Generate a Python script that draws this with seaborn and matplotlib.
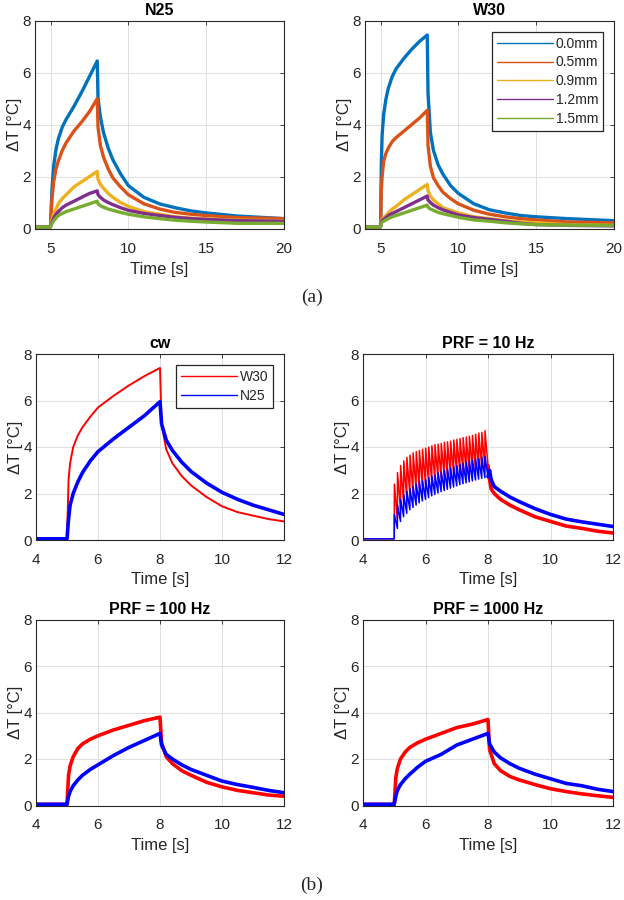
import numpy as np
import pandas as pd
import matplotlib
matplotlib.use("Agg")
import matplotlib.pyplot as plt
import seaborn as sns

# ---- (a) depth series ----
t_a = [4.0, 4.95, 5.0, 5.05, 5.1, 5.2, 5.35, 5.5, 5.75, 6.0, 6.5, 7.0, 7.5, 8.0,
       8.05, 8.2, 8.4, 8.7, 9.0, 9.5, 10.0, 11.0, 12.0, 13.0, 14.0, 15.0, 17.0, 20.0]
depths = ["0.0mm", "0.5mm", "0.9mm", "1.2mm", "1.5mm"]

n25_depth = {
    "0.0mm": [0.05, 0.05, 0.1, 0.9, 1.6, 2.4, 3.05, 3.45, 3.9, 4.2, 4.7, 5.25, 5.85, 6.45,
              5.0, 4.3, 3.7, 3.1, 2.65, 2.1, 1.65, 1.2, 0.95, 0.8, 0.68, 0.6, 0.48, 0.38],
    "0.5mm": [0.05, 0.05, 0.1, 0.7, 1.2, 1.8, 2.3, 2.6, 3.0, 3.3, 3.75, 4.1, 4.5, 5.0,
              3.9, 3.2, 2.75, 2.3, 1.95, 1.6, 1.3, 0.95, 0.75, 0.62, 0.55, 0.5, 0.42, 0.38],
    "0.9mm": [0.05, 0.05, 0.08, 0.25, 0.35, 0.55, 0.75, 0.95, 1.15, 1.3, 1.6, 1.8, 2.0, 2.2,
              1.9, 1.7, 1.55, 1.35, 1.2, 1.0, 0.85, 0.65, 0.55, 0.45, 0.4, 0.37, 0.32, 0.3],
    "1.2mm": [0.05, 0.05, 0.08, 0.18, 0.25, 0.4, 0.55, 0.65, 0.8, 0.9, 1.05, 1.2, 1.35, 1.45,
              1.3, 1.2, 1.1, 1.0, 0.92, 0.8, 0.7, 0.58, 0.5, 0.43, 0.38, 0.35, 0.3, 0.28],
    "1.5mm": [0.05, 0.05, 0.08, 0.15, 0.2, 0.3, 0.4, 0.5, 0.58, 0.65, 0.75, 0.85, 0.95, 1.05,
              0.95, 0.88, 0.82, 0.75, 0.7, 0.62, 0.55, 0.45, 0.38, 0.32, 0.28, 0.25, 0.2, 0.2],
}
w30_depth = {
    "0.0mm": [0.05, 0.05, 0.1, 2.5, 3.6, 4.4, 5.0, 5.4, 5.85, 6.15, 6.55, 6.9, 7.2, 7.45,
              5.2, 3.7, 3.0, 2.45, 2.1, 1.65, 1.35, 0.95, 0.72, 0.6, 0.5, 0.45, 0.38, 0.3],
    "0.5mm": [0.05, 0.05, 0.1, 1.5, 2.0, 2.6, 2.9, 3.1, 3.35, 3.5, 3.75, 4.0, 4.25, 4.55,
              3.2, 2.4, 1.95, 1.65, 1.4, 1.15, 0.95, 0.7, 0.55, 0.45, 0.38, 0.33, 0.25, 0.22],
    "0.9mm": [0.05, 0.05, 0.08, 0.3, 0.35, 0.42, 0.5, 0.6, 0.75, 0.85, 1.1, 1.3, 1.5, 1.7,
              1.45, 1.25, 1.1, 0.95, 0.8, 0.7, 0.6, 0.45, 0.38, 0.3, 0.25, 0.22, 0.15, 0.12],
    "1.2mm": [0.05, 0.05, 0.08, 0.25, 0.3, 0.35, 0.42, 0.5, 0.58, 0.65, 0.8, 0.95, 1.1, 1.25,
              1.1, 1.0, 0.9, 0.8, 0.72, 0.62, 0.52, 0.42, 0.35, 0.28, 0.2, 0.15, 0.12, 0.1],
    "1.5mm": [0.05, 0.05, 0.08, 0.2, 0.24, 0.28, 0.33, 0.38, 0.45, 0.5, 0.6, 0.7, 0.8, 0.9,
              0.82, 0.75, 0.7, 0.62, 0.57, 0.5, 0.43, 0.33, 0.28, 0.22, 0.18, 0.15, 0.13, 0.12],
}
depth_colors = ["#0072BD", "#D95319", "#EDB120", "#7E2F8E", "#77AC30"]

# ---- (b) W30 vs N25 for different pulse repetition ----
t_b = [4.0, 4.95, 5.0, 5.05, 5.1, 5.2, 5.35, 5.5, 5.75, 6.0, 6.5, 7.0, 7.5, 8.0,
       8.05, 8.2, 8.4, 8.7, 9.0, 9.5, 10.0, 10.5, 11.0, 11.5, 12.0]
cw_w30 = [0.05, 0.05, 0.05, 2.6, 3.3, 4.0, 4.5, 4.85, 5.3, 5.7, 6.2, 6.65, 7.05, 7.4,
          5.0, 3.9, 3.3, 2.75, 2.35, 1.85, 1.45, 1.2, 1.05, 0.9, 0.8]
cw_n25 = [0.05, 0.05, 0.05, 0.9, 1.5, 2.0, 2.5, 2.9, 3.4, 3.8, 4.35, 4.85, 5.35, 5.95,
          5.0, 4.3, 3.85, 3.35, 2.95, 2.45, 2.05, 1.75, 1.5, 1.3, 1.1]
prf100_w30 = [0.05, 0.05, 0.05, 1.3, 1.7, 2.1, 2.45, 2.65, 2.85, 3.0, 3.25, 3.45, 3.65, 3.8,
              2.7, 2.1, 1.8, 1.5, 1.3, 1.0, 0.8, 0.65, 0.55, 0.45, 0.4]
prf100_n25 = [0.05, 0.05, 0.05, 0.4, 0.6, 0.85, 1.1, 1.3, 1.55, 1.75, 2.15, 2.5, 2.8, 3.1,
              2.6, 2.2, 2.0, 1.75, 1.55, 1.3, 1.05, 0.9, 0.78, 0.65, 0.55]
prf1000_w30 = [0.05, 0.05, 0.05, 1.2, 1.6, 2.0, 2.3, 2.5, 2.7, 2.85, 3.1, 3.35, 3.5, 3.7,
               2.4, 1.8, 1.5, 1.25, 1.1, 0.9, 0.72, 0.6, 0.5, 0.42, 0.35]
prf1000_n25 = [0.05, 0.05, 0.05, 0.4, 0.65, 0.9, 1.15, 1.35, 1.65, 1.9, 2.2, 2.6, 2.85, 3.1,
               2.65, 2.3, 2.05, 1.8, 1.6, 1.35, 1.15, 0.95, 0.85, 0.7, 0.6]

# PRF = 10 Hz: one peak / trough per pulse
pulse_t = [5.0, 5.1, 5.2, 5.3, 5.4, 5.5, 5.6, 5.7, 5.8, 5.9, 6.0, 6.1, 6.2, 6.3, 6.4,
           6.5, 6.6, 6.7, 6.8, 6.9, 7.0, 7.1, 7.2, 7.3, 7.4, 7.5, 7.6, 7.7, 7.8, 7.9]
prf10_w30_peak = [2.4, 2.9, 3.2, 3.4, 3.55, 3.65, 3.75, 3.8, 3.85, 3.9, 3.95, 4.0, 4.05, 4.1, 4.12,
                  4.15, 4.2, 4.22, 4.25, 4.3, 4.33, 4.36, 4.4, 4.43, 4.46, 4.5, 4.55, 4.6, 4.63, 4.7]
prf10_w30_low = [0.9, 1.3, 1.6, 1.8, 1.95, 2.05, 2.15, 2.25, 2.32, 2.4, 2.46, 2.52, 2.58, 2.63, 2.68,
                 2.72, 2.76, 2.8, 2.84, 2.88, 2.92, 2.95, 2.98, 3.0, 3.03, 3.06, 3.09, 3.12, 3.15, 3.2]
prf10_n25_peak = [1.1, 1.5, 1.75, 1.95, 2.1, 2.2, 2.3, 2.4, 2.5, 2.55, 2.6, 2.68, 2.75, 2.8, 2.88,
                  2.93, 3.0, 3.05, 3.1, 3.15, 3.2, 3.25, 3.3, 3.35, 3.4, 3.43, 3.47, 3.5, 3.55, 3.6]
prf10_n25_low = [0.5, 0.8, 1.0, 1.15, 1.3, 1.4, 1.5, 1.6, 1.68, 1.75, 1.82, 1.9, 1.96, 2.02, 2.08,
                 2.13, 2.18, 2.23, 2.28, 2.33, 2.38, 2.42, 2.46, 2.5, 2.54, 2.58, 2.62, 2.65, 2.68, 2.72]
tail_t = [8.0, 8.05, 8.1, 8.2, 8.4, 8.7, 9.0, 9.5, 10.0, 10.5, 11.0, 11.5, 12.0]
prf10_w30_tail = [3.2, 2.6, 2.2, 2.0, 1.75, 1.5, 1.3, 1.0, 0.8, 0.6, 0.5, 0.38, 0.3]
prf10_n25_tail = [2.72, 3.0, 2.6, 2.3, 2.1, 1.85, 1.65, 1.35, 1.1, 0.9, 0.78, 0.68, 0.58]

RED, BLUE = "#FF0000", "#0000FF"
INK = "#262626"

sns.set_style("whitegrid", {"axes.edgecolor": INK, "grid.color": "#dedede",
                            "xtick.direction": "in", "ytick.direction": "in"})
plt.rcParams["font.family"] = ["Liberation Sans", "DejaVu Sans"]
plt.rcParams.update({"xtick.color": INK, "ytick.color": INK, "axes.labelcolor": INK,
                     "axes.linewidth": 0.8, "grid.linewidth": 0.7})


def pulse_frame(peaks, lows):
    # rebuild the 10 Hz sawtooth from the read peak / trough values
    xs, ys = [4.0, 5.0], [0.05, 0.05]
    for t, p, lo in zip(pulse_t, peaks, lows):
        xs += [t + 0.004, t + 0.1]
        ys += [p, lo]
    return pd.DataFrame({"t": xs, "dT": ys})


def style(ax, title, xlim, xticks, xpad):
    ax.set_xlim(xlim)
    ax.set_ylim(0, 8)
    ax.set_xticks(xticks)
    ax.set_yticks([0, 2, 4, 6, 8])
    ax.tick_params(labelsize=11, length=3, width=0.6, top=True, right=True)
    ax.tick_params(axis="x", pad=xpad)
    ax.tick_params(axis="y", pad=3)
    ax.set_xlabel("Time [s]", fontsize=12, labelpad=4)
    ax.set_ylabel("ΔT [°C]", fontsize=12, labelpad=0.5)
    ax.set_title(title, fontsize=11.5, fontweight="bold", pad=4, color="black")
    for s in ax.spines.values():
        s.set_color(INK)


def legend(ax, anchor, size):
    leg = ax.legend(loc="upper right", bbox_to_anchor=anchor, borderaxespad=0,
                    fancybox=False, framealpha=1, edgecolor=INK, fontsize=size,
                    handlelength=4.0, handletextpad=0.2, labelspacing=0.35,
                    borderpad=0.35)
    leg.get_frame().set_linewidth(0.9)
    for ln in leg.get_lines():
        ln.set_linewidth(1.0)


fig = plt.figure(figsize=(6.24, 9), dpi=100)
W, H = 624, 900


def axes_px(x0, y0, x1, y1):
    return fig.add_axes([x0 / W, 1 - y1 / H, (x1 - x0) / W, (y1 - y0) / H])


# (a)
for (x0, x1), title, data in [((35, 284), "N25", n25_depth), ((365, 614), "W30", w30_depth)]:
    ax = axes_px(x0, 20.7, x1, 228.5)
    df = pd.DataFrame([(t, v, d) for d in depths for t, v in zip(t_a, data[d])],
                      columns=["t", "dT", "depth"])
    sns.lineplot(data=df, x="t", y="dT", hue="depth", palette=depth_colors,
                 estimator=None, sort=False, linewidth=2.4, ax=ax,
                 legend=(title == "W30"))
    style(ax, title, (4, 20), [5, 10, 15, 20], xpad=10)
    if title == "W30":
        legend(ax, (0.956, 0.947), 10)

# (b)
panels = [
    ((36, 354, 284, 540), "cw", cw_w30, cw_n25),
    ((363, 354, 613, 540), "PRF = 10 Hz", None, None),
    ((36, 619.5, 284, 805.5), "PRF = 100 Hz", prf100_w30, prf100_n25),
    ((363, 619.5, 613, 805.5), "PRF = 1000 Hz", prf1000_w30, prf1000_n25),
]
for box, title, red, blue in panels:
    ax = axes_px(*box)
    if red is None:
        sns.lineplot(data=pulse_frame(prf10_w30_peak, prf10_w30_low),
                     x="t", y="dT", color=RED, estimator=None, sort=False,
                     linewidth=1.1, ax=ax)
        sns.lineplot(x=tail_t, y=prf10_w30_tail, color=RED, estimator=None,
                     sort=False, linewidth=2.6, ax=ax)
        sns.lineplot(data=pulse_frame(prf10_n25_peak, prf10_n25_low),
                     x="t", y="dT", color=BLUE, estimator=None, sort=False,
                     linewidth=1.1, ax=ax)
        sns.lineplot(x=tail_t, y=prf10_n25_tail, color=BLUE, estimator=None,
                     sort=False, linewidth=2.6, ax=ax)
    else:
        lw_r = 1.4 if title == "cw" else 2.6
        sns.lineplot(x=t_b, y=red, color=RED, estimator=None, sort=False,
                     linewidth=lw_r, ax=ax, label="W30")
        sns.lineplot(x=t_b, y=blue, color=BLUE, estimator=None, sort=False,
                     linewidth=2.6, ax=ax, label="N25")
    style(ax, title, (4, 12), [4, 6, 8, 10, 12], xpad=9)
    if title == "cw":
        legend(ax, (0.956, 0.941), 10)
    elif ax.get_legend() is not None:
        ax.get_legend().remove()

fig.text(312 / W, 1 - 297 / H, "(a)", ha="center", va="center", fontsize=14,
         family=["Liberation Serif", "DejaVu Serif"])
fig.text(312 / W, 1 - 885 / H, "(b)", ha="center", va="center", fontsize=14,
         family=["Liberation Serif", "DejaVu Serif"])

fig.savefig("out.png", dpi=100, facecolor="white")
